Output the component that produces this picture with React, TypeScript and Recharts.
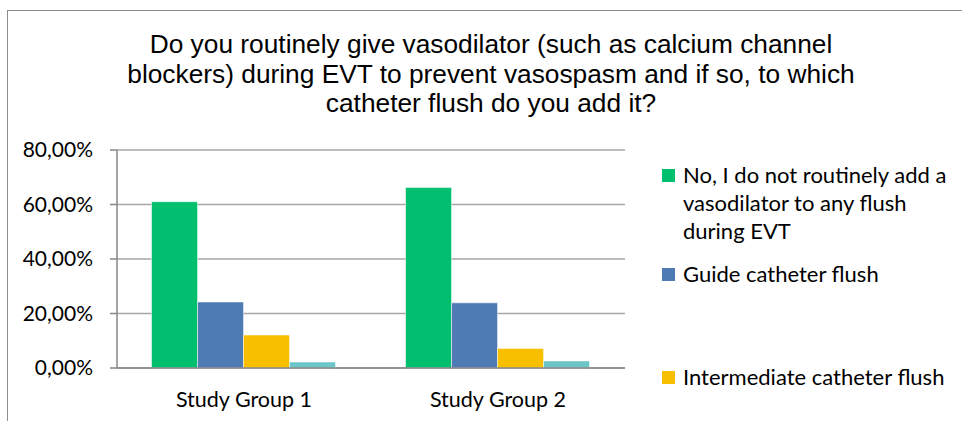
import React from 'react';
import {
  Bar,
  BarChart,
  CartesianGrid,
  Legend,
  XAxis,
  YAxis,
} from 'recharts';

// categories and answer shares (percent)
const groups = ['Study Group 1', 'Study Group 2'];
const noVasodilator = [61.0, 66.2];
const guideFlush = [24.2, 23.9];
const intermediateFlush = [12.1, 7.2];
const otherFlush = [2.2, 2.6];

const seriesNames = [
  'No, I do not routinely add a vasodilator to any flush during EVT',
  'Guide catheter flush',
  'Intermediate catheter flush',
  'Microcatheter flush',
];
const colors = ['#00bf6f', '#4f7bb5', '#f8bf00', '#6cc6c8'];
const yTicks = [0, 20, 40, 60, 80];

const data = groups.map((name, i) => ({
  name,
  pos: i + 0.5,
  s0: noVasodilator[i],
  s1: guideFlush[i],
  s2: intermediateFlush[i],
  s3: otherFlush[i],
}));

const fmt = (v: number) => `${v.toFixed(2).replace('.', ',')}%`;

const bodyFont = "Lato, 'Open Sans', sans-serif";
// only the first three legend rows fit inside the frame (the 4th is cut off in the original)
const legendTops = [161, 260, 363];

function LegendBox({ payload }: any) {
  const items = (payload || []).slice(0, legendTops.length);
  return (
    <div style={{ position: 'relative', width: 300, height: 250 }}>
      {items.map((p: any, i: number) => (
        <div
          key={p.value}
          style={{
            position: 'absolute',
            left: 0,
            top: legendTops[i] - 161,
            display: 'flex',
            alignItems: 'flex-start',
            fontFamily: bodyFont,
            fontSize: 22,
            lineHeight: '28px',
            color: '#000',
          }}
        >
          <span
            style={{
              width: 13,
              height: 13,
              background: p.color,
              marginTop: 8,
              marginRight: 8,
              flex: 'none',
            }}
          />
          <span style={{ width: 278 }}>{p.value}</span>
        </div>
      ))}
    </div>
  );
}

export default function App() {
  return (
    <div
      style={{
        position: 'absolute',
        left: 0,
        top: 0,
        width: 962,
        height: 421,
        overflow: 'hidden',
        background: '#fff',
      }}
    >
      <div
        style={{
          position: 'absolute',
          left: 7,
          top: 10,
          width: 962,
          height: 420,
          borderLeft: '1.5px solid #8c8c8c',
          borderTop: '1.5px solid #8c8c8c',
        }}
      />
      <div
        style={{
          position: 'absolute',
          left: 91,
          top: 30,
          width: 800,
          textAlign: 'center',
          fontFamily: "'Liberation Sans Narrow', 'Liberation Sans', Arial, sans-serif",
          fontSize: 26.3,
          lineHeight: '29.5px',
          color: '#000',
        }}
      >
        Do you routinely give vasodilator (such as calcium channel
        <br />
        blockers) during EVT to prevent vasospasm and if so, to which
        <br />
        catheter flush do you add it?
      </div>
      <BarChart
        width={962}
        height={421}
        data={data}
        margin={{ top: 150, right: 337, bottom: 0, left: 0 }}
        barCategoryGap="13.6%"
        barGap={0}
        style={{ position: 'absolute', left: 0, top: 0 }}
      >
        <CartesianGrid vertical={false} stroke="#a6a6a6" strokeWidth={1.5} />
        <XAxis
          dataKey="name"
          xAxisId="cat"
          height={53}
          tickLine={false}
          axisLine={{ stroke: '#868686', strokeWidth: 1.5 }}
          tick={{ fill: '#000', fontSize: 21.5, fontFamily: bodyFont }}
          tickMargin={18}
        />
        <XAxis
          xAxisId="edge"
          type="number"
          dataKey="pos"
          domain={[0, 2]}
          ticks={[0, 1, 2]}
          height={0}
          axisLine={false}
          tick={false}
          tickSize={7}
          tickLine={{ stroke: '#868686', strokeWidth: 1.5 }}
        />
        <YAxis
          width={117}
          domain={[0, 80]}
          ticks={yTicks}
          tickFormatter={fmt}
          tickSize={7}
          tickMargin={17}
          axisLine={{ stroke: '#868686', strokeWidth: 1.5 }}
          tickLine={{ stroke: '#868686', strokeWidth: 1.5 }}
          tick={{ fill: '#000', fontSize: 21, fontFamily: bodyFont }}
        />
        <Legend
          layout="vertical"
          align="center"
          verticalAlign="middle"
          itemSorter={(item: any) => seriesNames.indexOf(item.value)}
          wrapperStyle={{ position: 'absolute', left: 662, top: 161, width: 300 }}
          content={<LegendBox />}
        />
        {['s0', 's1', 's2', 's3'].map((k, i) => (
          <Bar
            key={k}
            dataKey={k}
            xAxisId="cat"
            name={seriesNames[i]}
            fill={colors[i]}
            stroke="#ffffff"
            strokeOpacity={0.5}
            strokeWidth={1}
            isAnimationActive={false}
          />
        ))}
      </BarChart>
    </div>
  );
}
